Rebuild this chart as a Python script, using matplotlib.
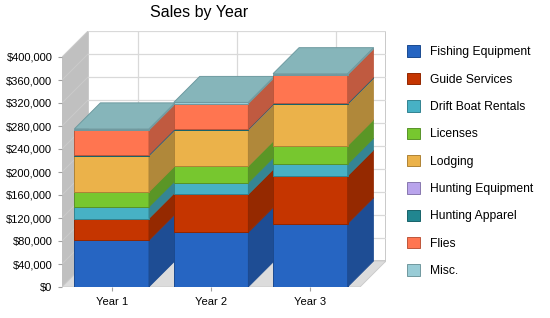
import matplotlib
matplotlib.use("Agg")
import matplotlib.pyplot as plt
from matplotlib.patches import Polygon
import numpy as np

plt.rcParams['font.family'] = ['Liberation Sans', 'DejaVu Sans']

years = ["Year 1", "Year 2", "Year 3"]
series = ["Fishing Equipment", "Guide Services", "Drift Boat Rentals", "Licenses",
          "Lodging", "Hunting Equipment", "Hunting Apparel", "Flies", "Misc."]
fishing_equipment = [81000, 95000, 110000]
guide_services = [38000, 66000, 83000]
drift_boat_rentals = [20000, 20000, 20500]
licenses = [26000, 29000, 32000]
lodging = [63000, 63000, 72000]
hunting_equipment = [500, 500, 500]
hunting_apparel = [1500, 1000, 1500]
flies = [42500, 44000, 49000]
misc = [2500, 2500, 2500]
values = [fishing_equipment, guide_services, drift_boat_rentals, licenses, lodging,
          hunting_equipment, hunting_apparel, flies, misc]

front_colors = ["#2665C2", "#C53500", "#47B1C5", "#77C72F", "#EBB24A",
                "#B9A4EC", "#218690", "#FF7550", "#99CCD6"]
side_colors = ["#1E4D94", "#952900", "#358594", "#5A9626", "#B0883A",
               "#8C7CB3", "#19656C", "#C05A40", "#86B4BA"]
edge_colors = ["#1B4A90", "#922700", "#338391", "#58932A", "#AE8336",
               "#8878AE", "#18636A", "#BD563B", "#71989E"]
top_color = "#86B5BA"

yticks = np.arange(0, 400001, 40000)
ytick_labels = ["${:,}".format(int(v)) for v in yticks]

W, H = 550, 318
fig = plt.figure(figsize=(W / 100, H / 100), dpi=100)

# pixel geometry of the 3D box
x_front_left, x_back_right = 62, 386
y_front_bottom, y_back_top = 287, 31
depth_px = 26
px_per_cat = (x_back_right - depth_px - x_front_left) / 3.0
px_per_dollar = (y_front_bottom - 57) / 400000.0
ddx = depth_px / px_per_cat
ddy = depth_px / px_per_dollar

ax = fig.add_axes([x_front_left / W, (H - y_front_bottom) / H,
                   (x_back_right - x_front_left) / W, (y_front_bottom - y_back_top) / H])
xmin = -0.5
xmax = 2.5 + ddx
ymax = (y_front_bottom - y_back_top) / px_per_dollar
ax.set_xlim(xmin, xmax)
ax.set_ylim(0, ymax)
for s in ax.spines.values():
    s.set_visible(False)
ax.patch.set_visible(False)

# walls
wall_gray = "#C0C0C0"
floor_gray = "#DCDCDC"
grid_col = "#D9D9D9"
ax.add_patch(Polygon([(xmin, 0), (xmin, 400000), (xmin + ddx, 400000 + ddy), (xmin + ddx, ddy)],
                     closed=True, facecolor=wall_gray, edgecolor="none", zorder=1))
ax.add_patch(Polygon([(xmin + ddx, ddy), (xmin + ddx, 400000 + ddy), (2.5 + ddx, 400000 + ddy), (2.5 + ddx, ddy)],
                     closed=True, facecolor="white", edgecolor="#C0C0C0", lw=1.2, zorder=1))
for v in yticks:
    ax.plot([xmin + ddx, 2.5 + ddx], [v + ddy, v + ddy], color=grid_col, lw=0.9, zorder=2)
    ax.plot([xmin, xmin + ddx], [v, v + ddy], color="#CBCBCB", lw=0.7, zorder=2)
for i in range(len(years)):
    ax.plot([i + ddx, i + ddx], [ddy, 400000 + ddy], color=grid_col, lw=0.9, zorder=2)
ax.add_patch(Polygon([(xmin, 0), (2.5, 0), (2.5 + ddx, ddy), (xmin + ddx, ddy)],
                     closed=True, facecolor=floor_gray, edgecolor="#C8C8C8", lw=0.6, zorder=3))

# bars
width = 0.75
x = np.arange(len(years))
z = 10
handles = []
for i in range(len(years)):
    bottom = 0
    for k in range(len(series)):
        v = values[k][i]
        b = ax.bar(x[i], v, width=width, bottom=bottom, color=front_colors[k],
                   edgecolor=edge_colors[k], linewidth=0.7, zorder=z)
        if i == 0:
            handles.append(b)
        xr = x[i] + width / 2
        ax.add_patch(Polygon([(xr, bottom), (xr + ddx, bottom + ddy), (xr + ddx, bottom + v + ddy), (xr, bottom + v)],
                             closed=True, facecolor=side_colors[k], edgecolor=edge_colors[k],
                             lw=0.5, zorder=z))
        bottom += v
    xl = x[i] - width / 2
    xr = x[i] + width / 2
    ax.add_patch(Polygon([(xl, bottom), (xr, bottom), (xr + ddx, bottom + ddy), (xl + ddx, bottom + ddy)],
                         closed=True, facecolor=top_color, edgecolor="#6E9AA0", lw=0.7, zorder=z + 1))
    z += 2

# axes ticks
ax.set_yticks(yticks)
ax.set_yticklabels(ytick_labels)
ax.set_xticks(x)
ax.set_xticklabels(years)
ax.tick_params(axis='both', labelsize=8, color="#A0A0A0", length=3, width=0.8, pad=4)
ax.tick_params(axis='x', pad=4)

fig.text(0.362, 0.962, "Sales by Year", ha="center", va="center", fontsize=11.5)

leg = fig.legend([h[0] for h in handles], series, loc="upper left",
                 bbox_to_anchor=(407 / W, 1 - 45.5 / H), frameon=False, fontsize=8.7,
                 handlelength=1.08, handleheight=1.08, handletextpad=0.85,
                 labelspacing=1.2, borderpad=0, borderaxespad=0)

fig.savefig("out.png", dpi=100)
